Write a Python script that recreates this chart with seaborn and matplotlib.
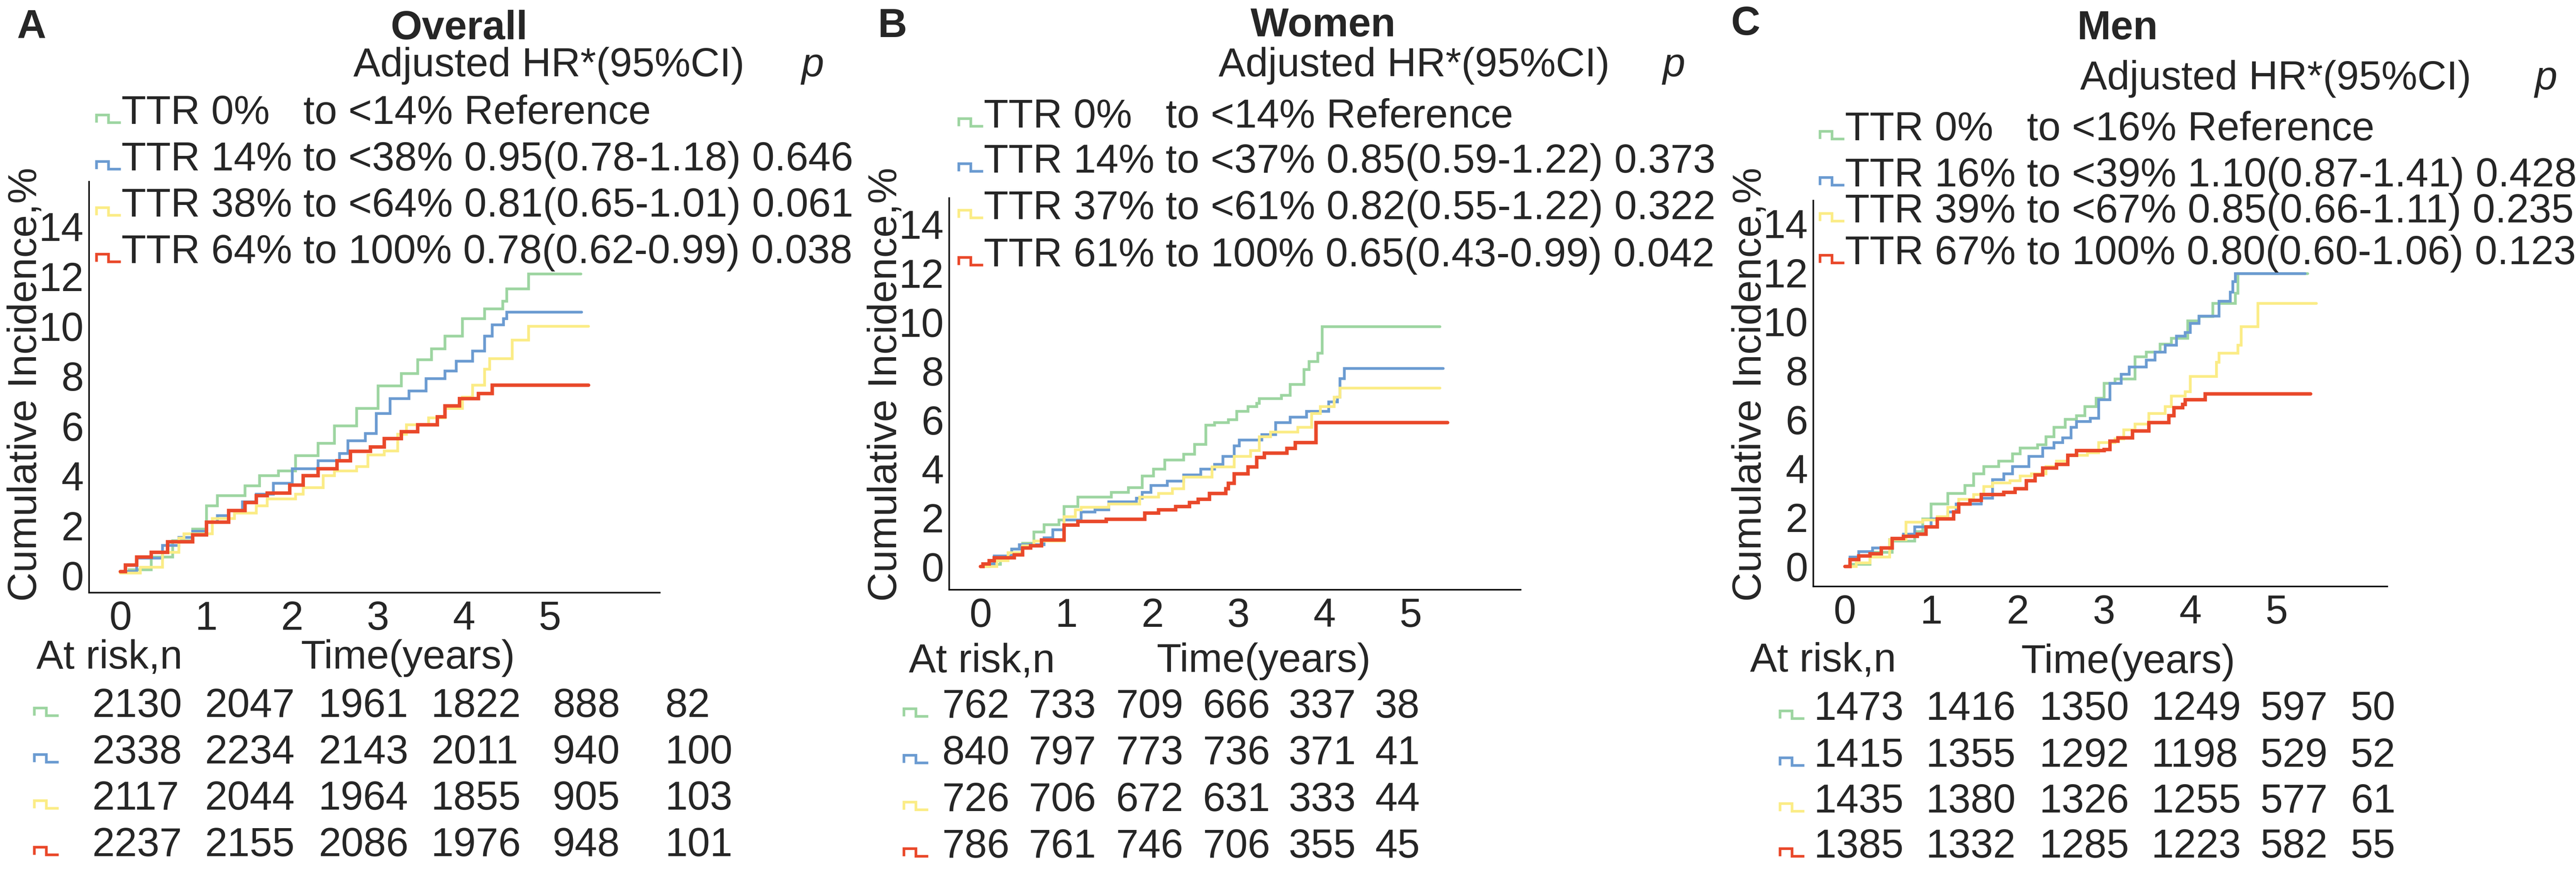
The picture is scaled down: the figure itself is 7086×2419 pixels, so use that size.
import matplotlib.pyplot as plt
from matplotlib.lines import Line2D
import seaborn as sns

# ---------------- data ----------------
GROUPS = ['green', 'blue', 'yellow', 'red']
COLORS = {'green': '#9dd5a1', 'blue': '#6b9bd1', 'yellow': '#fbec86', 'red': '#e9482a'}

# Panel A: Overall  (time in years, cumulative incidence %)
A_GREEN_T = [0, 0.10, 0.36, 0.61, 0.84, 1.00, 1.13, 1.45, 1.62, 1.84, 2.04, 2.30, 2.49, 2.75, 3.00, 3.27, 3.46,
             3.62, 3.78, 3.98, 4.24, 4.45, 4.50, 4.75, 5.36]
A_GREEN_Y = [0.15, 0.23, 0.74, 1.40, 1.86, 2.80, 3.20, 3.60, 4.00, 4.20, 4.80, 5.30, 6.00, 6.70, 7.60, 8.10, 8.65,
             9.10, 9.60, 10.30, 10.70, 11.00, 11.50, 12.10, 12.10]
A_BLUE_T = [0, 0.19, 0.49, 0.68, 0.84, 1.00, 1.13, 1.26, 1.42, 1.58, 1.78, 2.00, 2.30, 2.55, 2.65, 2.85, 2.98, 3.14,
            3.36, 3.56, 3.78, 3.91, 4.10, 4.24, 4.33, 4.46, 4.50, 5.37]
A_BLUE_Y = [0.15, 0.70, 1.20, 1.53, 1.77, 2.14, 2.40, 2.60, 2.95, 3.26, 3.70, 4.28, 4.60, 4.90, 5.40, 5.70, 6.50, 7.10,
            7.40, 7.90, 8.20, 8.60, 9.00, 9.60, 10.05, 10.30, 10.56, 10.56]
A_YELLOW_T = [0, 0.23, 0.49, 0.68, 0.74, 1.07, 1.33, 1.58, 1.71, 2.04, 2.13, 2.36, 2.49, 2.75, 2.88, 3.07, 3.23, 3.33,
              3.59, 3.78, 3.98, 4.10, 4.24, 4.30, 4.56, 4.75, 5.45]
A_YELLOW_Y = [0.10, 0.33, 0.93, 1.49, 1.67, 2.28, 2.50, 2.80, 3.07, 3.26, 3.53, 4.00, 4.19, 4.37, 4.84, 5.00, 5.67, 6.05,
              6.33, 6.70, 7.16, 7.63, 8.28, 8.70, 9.44, 10.00, 10.00]
A_RED_T = [0, 0.06, 0.19, 0.36, 0.55, 0.84, 1.00, 1.26, 1.45, 1.58, 1.71, 1.97, 2.13, 2.30, 2.52, 2.68, 2.91, 3.07,
           3.27, 3.46, 3.69, 3.78, 3.95, 4.17, 4.33, 5.45]
A_RED_Y = [0.15, 0.42, 0.74, 0.93, 1.35, 1.63, 2.14, 2.60, 2.93, 3.20, 3.30, 3.63, 4.00, 4.28, 4.60, 4.98, 5.16, 5.49,
           5.77, 6.05, 6.37, 6.80, 7.10, 7.30, 7.63, 7.63]

# Panel B: Women
B_GREEN_T = [0, 0.06, 0.23, 0.36, 0.49, 0.62, 0.74, 0.91, 0.97, 1.13, 1.52, 1.72, 1.88, 2.01, 2.14, 2.36, 2.49, 2.62,
             2.72, 2.88, 2.98, 3.11, 3.21, 3.24, 3.50, 3.60, 3.76, 3.82, 3.92, 3.97, 5.34]
B_GREEN_Y = [0, 0.09, 0.38, 0.71, 0.95, 1.42, 1.71, 1.90, 2.46, 2.84, 3.03, 3.22, 3.70, 3.98, 4.36, 4.60, 5.00, 5.78,
             5.88, 6.00, 6.35, 6.54, 6.68, 6.87, 7.00, 7.44, 8.06, 8.39, 8.72, 9.81, 9.81]
B_BLUE_T = [0, 0.10, 0.16, 0.36, 0.45, 0.74, 0.84, 0.97, 1.17, 1.33, 1.49, 1.81, 1.88, 1.98, 2.17, 2.36, 2.56, 2.72,
            2.82, 2.95, 3.01, 3.27, 3.43, 3.60, 3.79, 4.05, 4.15, 4.18, 4.23, 5.38]
B_BLUE_Y = [0, 0.10, 0.43, 0.71, 0.90, 1.18, 1.50, 1.90, 2.23, 2.32, 2.65, 2.80, 3.03, 3.32, 3.50, 3.74, 3.98, 4.17,
            4.50, 4.93, 5.17, 5.40, 5.88, 6.11, 6.35, 6.73, 6.92, 7.68, 8.10, 8.10]
B_YELLOW_T = [0, 0.19, 0.32, 0.49, 0.62, 0.97, 1.10, 1.17, 1.49, 1.85, 2.07, 2.23, 2.36, 2.69, 2.95, 3.14, 3.24, 3.37,
              3.69, 3.85, 3.95, 4.11, 4.18, 5.34]
B_YELLOW_Y = [0, 0.24, 0.57, 0.85, 1.04, 2.04, 2.32, 2.42, 2.56, 2.84, 2.99, 3.18, 3.65, 4.08, 4.50, 4.74, 5.30, 5.50,
              5.69, 6.26, 6.54, 6.92, 7.30, 7.30]
B_RED_T = [0, 0.03, 0.10, 0.16, 0.39, 0.49, 0.58, 0.71, 0.97, 1.13, 1.46, 1.91, 2.07, 2.27, 2.43, 2.53, 2.66, 2.85,
           2.88, 2.95, 3.11, 3.21, 3.30, 3.56, 3.66, 3.90, 5.43]
B_RED_Y = [0, 0.10, 0.24, 0.36, 0.47, 0.76, 0.85, 1.09, 1.70, 1.85, 1.94, 2.18, 2.32, 2.46, 2.61, 2.75, 2.99, 3.18,
           3.41, 3.79, 4.08, 4.46, 4.64, 4.83, 5.07, 5.88, 5.88]

# Panel C: Men
C_GREEN_T = [0, 0.06, 0.29, 0.55, 0.81, 0.90, 1.00, 1.19, 1.39, 1.49, 1.61, 1.78, 1.94, 2.03, 2.23, 2.33, 2.42, 2.55,
             2.68, 2.78, 2.91, 3.00, 3.13, 3.36, 3.49, 3.65, 3.78, 3.97, 4.10, 4.26, 4.52, 4.55, 5.36]
C_GREEN_Y = [0, 0.09, 0.57, 1.04, 1.42, 1.94, 2.55, 2.98, 3.31, 3.78, 4.07, 4.30, 4.59, 4.83, 4.97, 5.30, 5.68, 6.01,
             6.15, 6.53, 6.86, 7.47, 7.66, 8.56, 8.75, 9.08, 9.32, 10.03, 10.20, 10.74, 11.15, 11.96, 11.96]
C_BLUE_T = [0, 0.06, 0.16, 0.32, 0.52, 0.68, 0.81, 1.00, 1.19, 1.29, 1.58, 1.71, 1.84, 1.94, 2.13, 2.29, 2.42, 2.52,
            2.62, 2.68, 2.84, 2.94, 3.07, 3.20, 3.29, 3.49, 3.59, 3.71, 3.84, 3.94, 4.00, 4.10, 4.33, 4.46, 4.49,
            4.52, 5.33]
C_BLUE_Y = [0, 0.38, 0.61, 0.76, 1.09, 1.32, 1.61, 1.94, 2.22, 2.55, 2.79, 3.55, 3.78, 4.07, 4.49, 4.83, 5.06, 5.25,
            5.68, 5.91, 6.05, 6.81, 7.47, 7.85, 8.14, 8.42, 8.75, 9.04, 9.41, 9.56, 9.93, 10.22, 10.83, 11.20, 11.63,
            11.96, 11.96]
C_YELLOW_T = [0, 0.13, 0.29, 0.52, 0.71, 0.90, 1.07, 1.19, 1.32, 1.49, 1.61, 1.71, 1.91, 2.03, 2.16, 2.33, 2.45, 2.58,
              2.81, 2.94, 3.13, 3.23, 3.36, 3.52, 3.71, 3.78, 3.94, 4.00, 4.30, 4.33, 4.55, 4.59, 4.78, 5.46]
C_YELLOW_Y = [0, 0.14, 0.38, 1.09, 1.80, 1.89, 2.03, 2.41, 2.74, 2.93, 3.26, 3.41, 3.50, 3.69, 3.78, 4.07, 4.30, 4.54,
              4.64, 5.06, 5.20, 5.58, 5.82, 6.24, 6.53, 6.95, 7.14, 7.76, 8.33, 8.70, 9.04, 9.79, 10.74, 10.74]
C_RED_T = [0, 0.06, 0.16, 0.29, 0.42, 0.55, 0.68, 0.84, 0.94, 1.07, 1.26, 1.32, 1.45, 1.58, 1.84, 1.97, 2.10, 2.20,
           2.29, 2.45, 2.58, 2.68, 3.00, 3.07, 3.16, 3.33, 3.52, 3.75, 3.81, 3.91, 3.94, 4.17, 5.39]
C_RED_Y = [0, 0.28, 0.43, 0.52, 0.76, 1.14, 1.23, 1.32, 1.61, 1.94, 2.22, 2.55, 2.70, 2.93, 3.03, 3.17, 3.50, 3.74,
           4.02, 4.16, 4.54, 4.73, 4.78, 5.11, 5.25, 5.53, 5.87, 6.15, 6.48, 6.62, 6.81, 7.05, 7.05]

# legend texts
A_ROWS = ['TTR 0%   to <14% Reference',
          'TTR 14% to <38% 0.95(0.78-1.18) 0.646',
          'TTR 38% to <64% 0.81(0.65-1.01) 0.061',
          'TTR 64% to 100% 0.78(0.62-0.99) 0.038']
B_ROWS = ['TTR 0%   to <14% Reference',
          'TTR 14% to <37% 0.85(0.59-1.22) 0.373',
          'TTR 37% to <61% 0.82(0.55-1.22) 0.322',
          'TTR 61% to 100% 0.65(0.43-0.99) 0.042']
C_ROWS = ['TTR 0%   to <16% Reference',
          'TTR 16% to <39% 1.10(0.87-1.41) 0.428',
          'TTR 39% to <67% 0.85(0.66-1.11) 0.235',
          'TTR 67% to 100% 0.80(0.60-1.06) 0.123']

# numbers at risk
A_RISK = [[2130, 2047, 1961, 1822, 888, 82],
          [2338, 2234, 2143, 2011, 940, 100],
          [2117, 2044, 1964, 1855, 905, 103],
          [2237, 2155, 2086, 1976, 948, 101]]
B_RISK = [[762, 733, 709, 666, 337, 38],
          [840, 797, 773, 736, 371, 41],
          [726, 706, 672, 631, 333, 44],
          [786, 761, 746, 706, 355, 45]]
C_RISK = [[1473, 1416, 1350, 1249, 597, 50],
          [1415, 1355, 1292, 1198, 529, 52],
          [1435, 1380, 1326, 1255, 577, 61],
          [1385, 1332, 1285, 1223, 582, 55]]

YEARS = [0, 1, 2, 3, 4, 5]
YTICKS = [0, 2, 4, 6, 8, 10, 12, 14]

# ---------------- layout (pixels of the 7086x2419 canvas) ----------------
W, H, DPI = 7086, 2419, 300
FS = 26.7

PANELS = [
    dict(letter='A', title='Overall', box=(245, 500, 1815, 1631), ylim=(-0.69, 15.8),
         curves=[(A_GREEN_T, A_GREEN_Y), (A_BLUE_T, A_BLUE_Y), (A_YELLOW_T, A_YELLOW_Y), (A_RED_T, A_RED_Y)],
         rows=A_ROWS, risk=A_RISK,
         letter_xy=(46, 105), title_xy=(1263, 108), head_xy=(972, 210), p_xy=(2205, 210),
         leg_x=334, leg_y=[341, 469, 596, 724],
         risk_lab=(100, 1840), time_lab=(827, 1840),
         risk_x=[253, 563, 876, 1186, 1520, 1829], risk_y=[1973, 2101, 2228, 2356], risk_key=161),
    dict(letter='B', title='Women', box=(2611, 545, 4183, 1623), ylim=(-0.95, 15.07),
         curves=[(B_GREEN_T, B_GREEN_Y), (B_BLUE_T, B_BLUE_Y), (B_YELLOW_T, B_YELLOW_Y), (B_RED_T, B_RED_Y)],
         rows=B_ROWS, risk=B_RISK,
         letter_xy=(2415, 102), title_xy=(3640, 100), head_xy=(3352, 210), p_xy=(4574, 210),
         leg_x=2706, leg_y=[351, 475, 603, 733],
         risk_lab=(2500, 1849), time_lab=(3181, 1849),
         risk_x=[2591, 2829, 3069, 3308, 3545, 3782], risk_y=[1975, 2103, 2232, 2360], risk_key=2553),
    dict(letter='C', title='Men', box=(4988, 552, 6567, 1614), ylim=(-0.82, 14.94),
         curves=[(C_GREEN_T, C_GREEN_Y), (C_BLUE_T, C_BLUE_Y), (C_YELLOW_T, C_YELLOW_Y), (C_RED_T, C_RED_Y)],
         rows=C_ROWS, risk=C_RISK,
         letter_xy=(4761, 96), title_xy=(5825, 108), head_xy=(5722, 246), p_xy=(6973, 246),
         leg_x=5075, leg_y=[386, 513, 612, 727],
         risk_lab=(4814, 1847), time_lab=(5560, 1852),
         risk_x=[4989, 5298, 5609, 5918, 6218, 6466], risk_y=[1981, 2110, 2236, 2360], risk_key=4963),
]

sns.set_theme(style="white")
plt.rcParams['font.family'] = ['Liberation Sans', 'DejaVu Sans']


def fx(x):
    return x / W


def fy(y):
    return 1 - y / H


fig = plt.figure(figsize=(W / DPI, H / DPI), dpi=DPI)


def step_key(x_right, y_base, color, lw):
    # small step-shaped key drawn left of a text line
    xs = [x_right - 67, x_right - 67, x_right - 34, x_right - 34, x_right]
    ys = [y_base - 4, y_base - 25, y_base - 25, y_base - 4, y_base - 4]
    fig.add_artist(Line2D([fx(v) for v in xs], [fy(v) for v in ys], color=color, lw=lw,
                          solid_joinstyle='miter', solid_capstyle='butt', transform=fig.transFigure))


def put(xy, s, **kw):
    fig.text(fx(xy[0]), fy(xy[1]), s, fontsize=FS, va='baseline', **kw)


for p in PANELS:
    l, t, r, b = p['box']
    ax = fig.add_axes([fx(l), fy(b), fx(r) - fx(l), fy(t) - fy(b)])

    for g, (tt, yy) in zip(GROUPS, p['curves']):
        sns.lineplot(x=tt, y=yy, ax=ax, color=COLORS[g], drawstyle='steps-post', estimator=None, sort=False,
                     linewidth=2.3 if g == 'red' else 1.8, solid_joinstyle='miter', legend=False)

    ax.set_xlim(-0.365, 6.28)
    ax.set_ylim(*p['ylim'])
    ax.set_xticks(YEARS)
    ax.set_yticks(YTICKS)
    ax.set_xlabel('')
    ax.set_ylabel('')
    ax.tick_params(axis='both', length=0, labelsize=FS)
    ax.tick_params(axis='x', pad=5)
    ax.tick_params(axis='y', pad=3.5)
    sns.despine(ax=ax)
    for side in ['left', 'bottom']:
        ax.spines[side].set_color('black')
        ax.spines[side].set_linewidth(1.0)

    # y label
    fig.text(fx(l - 226), fy(1058), 'Cumulative Incidence,%', rotation=90, ha='left', va='center', fontsize=FS)

    # header texts
    put(p['letter_xy'], p['letter'], fontweight='bold')
    put(p['title_xy'], p['title'], fontweight='bold', ha='center')
    put(p['head_xy'], 'Adjusted HR*(95%CI)')
    put(p['p_xy'], 'p', fontstyle='italic')

    # legend rows
    for g, row, yb in zip(GROUPS, p['rows'], p['leg_y']):
        step_key(p['leg_x'] - 2, yb, COLORS[g], 1.75)
        put((p['leg_x'], yb), row)

    # numbers at risk
    put(p['risk_lab'], 'At risk,n')
    put(p['time_lab'], 'Time(years)')
    for g, counts, yb in zip(GROUPS, p['risk'], p['risk_y']):
        step_key(p['risk_key'], yb, COLORS[g], 1.75)
        for xpos, n in zip(p['risk_x'], counts):
            put((xpos, yb), str(n))

fig.savefig('out.png', dpi=DPI)
